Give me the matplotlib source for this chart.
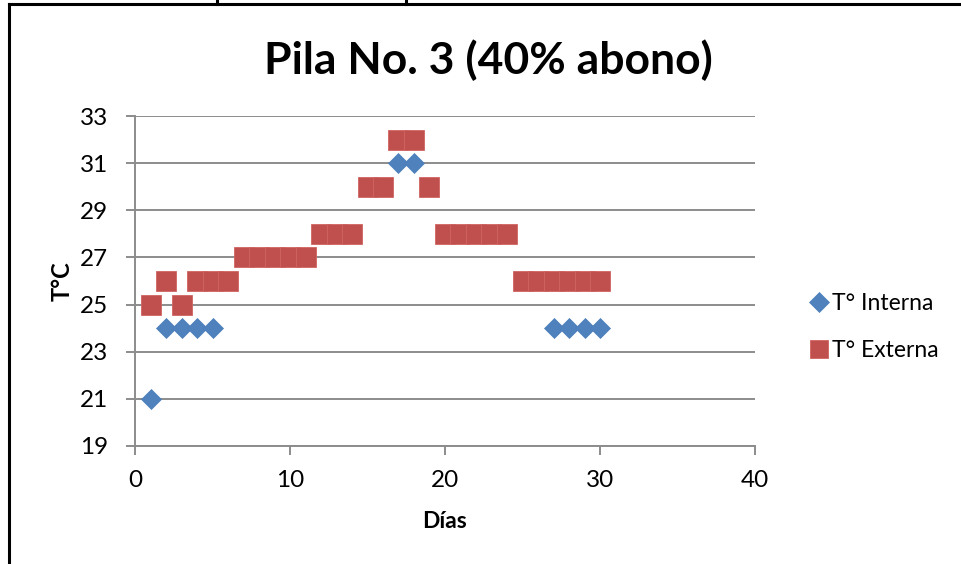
import matplotlib
matplotlib.use("Agg")
import matplotlib.pyplot as plt
from matplotlib.lines import Line2D

plt.rcParams['font.family'] = ['Lato', 'DejaVu Sans']

# Temperature readings per day
dias_interna = [1, 2, 3, 4, 5, 17, 18, 27, 28, 29, 30]
temp_interna = [21, 24, 24, 24, 24, 31, 31, 24, 24, 24, 24]

dias_externa = list(range(1, 31))
temp_externa = [25, 26, 25, 26, 26, 26, 27, 27, 27, 27,
                27, 28, 28, 28, 30, 30, 32, 32, 30, 28,
                28, 28, 28, 28, 26, 26, 26, 26, 26, 26]

x_ticks = [0, 10, 20, 30, 40]
y_ticks = [19, 21, 23, 25, 27, 29, 31, 33]

W, H = 961, 564
fig = plt.figure(figsize=(W / 100, H / 100), dpi=100)
ax = fig.add_axes([135 / W, (H - 446) / H, 620 / W, 330 / H])

grid_col = '#8c8c8c'
ax.plot(dias_interna, temp_interna, linestyle='none', marker='D', markersize=10.2,
        color='#4f81bd', markeredgecolor='#4a7ebb', markeredgewidth=0.5,
        label='T° Interna', zorder=3)
ax.plot(dias_externa, temp_externa, linestyle='none', marker='s', markersize=14.2,
        color='#c0504d', markeredgecolor='#d06562', markeredgewidth=0.6,
        label='T° Externa', zorder=3)

ax.set_xlim(0, 40)
ax.set_ylim(19, 33)
ax.set_xticks(x_ticks)
ax.set_yticks(y_ticks)
ax.yaxis.grid(True, color=grid_col, linewidth=1.4)
ax.set_axisbelow(True)
for side in ('top', 'right'):
    ax.spines[side].set_visible(False)
for side in ('left', 'bottom'):
    ax.spines[side].set_color(grid_col)
    ax.spines[side].set_linewidth(1.4)
ax.tick_params(axis='both', colors=grid_col, length=6.5, width=1.4,
               labelcolor='black', labelsize=17.5)
ax.tick_params(axis='x', pad=11)
ax.tick_params(axis='y', pad=13)

ax.set_xlabel('Días', fontsize=16.5, fontweight='bold', labelpad=14)
ax.set_ylabel('T°C', fontsize=17, fontweight='bold', labelpad=4)
fig.text(488 / W, 1 - 60 / H, 'Pila No. 3 (40% abono)', fontsize=32,
         fontweight='bold', ha='center', va='center')

ax.legend(loc='center left', bbox_to_anchor=(787 / W, 1 - 327 / H),
          bbox_transform=fig.transFigure, frameon=False, fontsize=16.5,
          handletextpad=0.05, labelspacing=1.15, handlelength=1.0,
          markerscale=0.95)

# frame lines around the chart object
def px_line(xs, ys):
    fig.add_artist(Line2D([x / W for x in xs], [1 - y / H for y in ys],
                          color='black', linewidth=2.2,
                          transform=fig.transFigure))

px_line([9, W], [4, 4])
px_line([9, 9], [4, H])
px_line([217, 217], [0, 4])
px_line([406, 406], [0, 4])

fig.savefig('out.png', dpi=100)
